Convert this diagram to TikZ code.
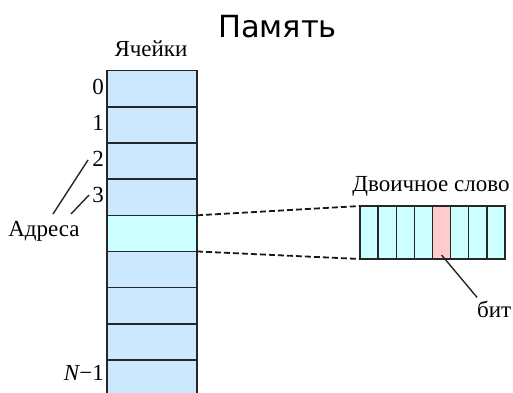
\documentclass[tikz,border=0pt]{standalone}
\usepackage{fontspec}
\setmainfont{Liberation Serif}
\newfontfamily\titlefont{DejaVu Sans}
\definecolor{cellblue}{HTML}{CCE8FF}
\definecolor{cellcyan}{HTML}{CCFFFF}
\definecolor{bitpink}{HTML}{FFCCCC}
\begin{document}
\begin{tikzpicture}[x=1pt,y=-1pt,
  cell/.style={draw=black!85,line width=1.5pt,fill=cellblue,minimum width=90pt,minimum height=36.15pt,inner sep=0pt,outer sep=0pt},
  bitcell/.style={draw=black!85,line width=1.4pt,fill=cellcyan,minimum width=18.125pt,minimum height=53pt,inner sep=0pt,outer sep=0pt},
  lbl/.style={font=\fontsize{23}{25}\selectfont,inner sep=0pt},
  conn/.style={line width=1.4pt,black!85},
  dashconn/.style={line width=1.8pt,dash pattern=on 6pt off 3pt,black!90}]
\useasboundingbox (0,0) rectangle (513,392);
\clip (0,0) rectangle (513,392);
% memory column
\foreach \i in {0,...,8}{
  \node[cell] (c\i) at (152,{70.7+36.15*(\i+0.5)}) {};
}
\node[cell,fill=cellcyan] at (c4) {};
% labels
\node[lbl,anchor=base] (cap) at (151,56.7) {Ячейки};
\node[font=\titlefont\fontsize{30.5}{32}\selectfont,inner sep=0pt,anchor=base] (title) at (277.5,37.7) {Память};
\node[lbl,anchor=base east] (n0) at (104,94) {0};
\node[lbl,anchor=base east] (n1) at (104,130) {1};
\node[lbl,anchor=base east] (n2) at (104,166) {2};
\node[lbl,anchor=base east] (n3) at (104,202) {3};
\node[lbl,anchor=base east] (nN) at (104,380) {\textit{N}\kern-1pt−1};
\node[lbl,anchor=base] (adr) at (44,236.7) {Адреса};
\draw[conn] (53,214) -- (88,160);
\draw[conn] (71,214) -- (89,195);
% word
\foreach \j in {0,...,7}{
  \node[bitcell] (b\j) at ({360+18.125*(\j+0.5)},232.5) {};
}
\node[bitcell,fill=bitpink] at (b4) {};
\node[lbl,anchor=base] (word) at (431,191) {Двоичное слово};
\node[lbl,anchor=base west] (bit) at (477,317) {бит};
\draw[dashconn] (c4.north east) -- (b0.north west);
\draw[dashconn] (c4.south east) -- (b0.south west);
\draw[conn] ([yshift=-22.5pt]b4.center) -- ([xshift=0pt,yshift=3pt]bit.north west);
\end{tikzpicture}
\end{document}
